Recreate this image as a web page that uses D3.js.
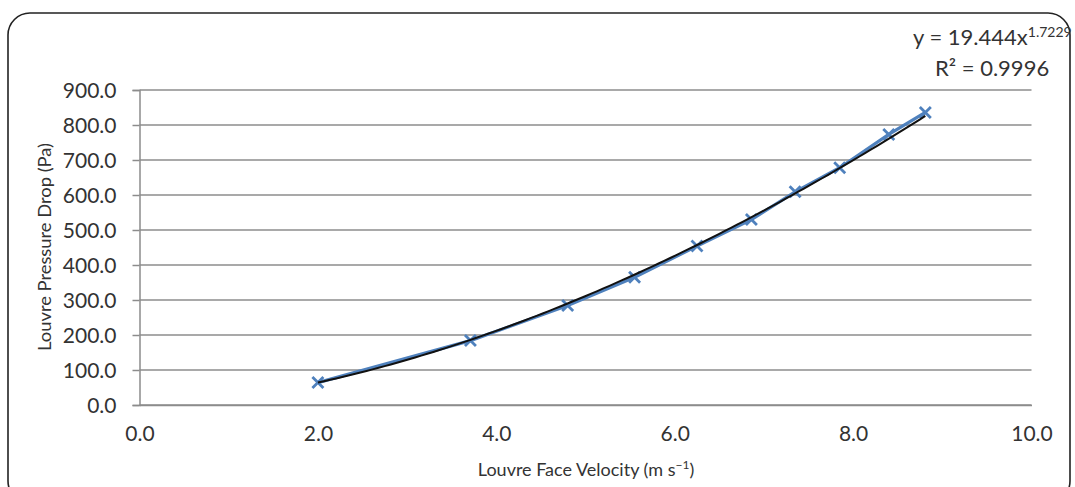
<!DOCTYPE html>
<html><head><meta charset="utf-8">
<script src="https://cdn.jsdelivr.net/npm/d3@7"></script>
<style>body{margin:0;background:#fff;} svg{display:block;}</style>
</head><body>
<svg id="c" width="1075" height="487"></svg>
<script>
const velocity = [2.0, 3.71, 4.8, 5.55, 6.25, 6.86, 7.35, 7.85, 8.40, 8.81];
const pressure = [64, 184, 284, 365, 454, 530, 609, 678, 773, 836];
const xTicks = [0, 2, 4, 6, 8, 10];
const yTicks = [0, 100, 200, 300, 400, 500, 600, 700, 800, 900];
const fitA = 19.444, fitB = 1.7229;
const eqText = "y = 19.444x", eqSup = "1.7229", r2Text = "R² = 0.9996";

const svg = d3.select("#c");
const font = "Lato, 'Open Sans', sans-serif";
const x = d3.scaleLinear().domain([0, 10]).range([139.5, 1031.5]);
const y = d3.scaleLinear().domain([0, 900]).range([405, 90]);

// chart border
svg.append("rect").attr("x", 8).attr("y", 13).attr("width", 1062).attr("height", 490)
  .attr("rx", 22).attr("fill", "none").attr("stroke", "#222").attr("stroke-width", 1.6);

// gridlines
svg.append("g").selectAll("line").data(yTicks).join("line")
  .attr("x1", x(0)).attr("x2", x(10)).attr("y1", d => y(d)).attr("y2", d => y(d))
  .attr("stroke", "#8c8c8c").attr("stroke-width", 1.5);

// y axis
const ya = svg.append("g").attr("transform", `translate(${x(0)},0)`)
  .call(d3.axisLeft(y).tickValues(yTicks).tickSize(7).tickPadding(16).tickFormat(d3.format(".1f")));
ya.select(".domain").attr("stroke", "#8c8c8c").attr("stroke-width", 1.5);
ya.selectAll(".tick line").attr("stroke", "#8c8c8c").attr("stroke-width", 1.5);
ya.selectAll("text").attr("font-family", font).attr("font-size", 21).attr("fill", "#333").attr("dy", "0.35em");

// x axis
const xa = svg.append("g").attr("transform", `translate(0,${y(0)})`)
  .call(d3.axisBottom(x).tickValues(xTicks).tickSize(0).tickPadding(21).tickFormat(d3.format(".1f")));
xa.select(".domain").attr("stroke", "#8c8c8c").attr("stroke-width", 1.5);
xa.selectAll("text").attr("font-family", font).attr("font-size", 21).attr("fill", "#333");

// data line
const pts = velocity.map((v, i) => [v, pressure[i]]);
svg.append("path").datum(pts)
  .attr("d", d3.line().x(d => x(d[0])).y(d => y(d[1])))
  .attr("fill", "none").attr("stroke", "#4f81bd").attr("stroke-width", 3.2);

// markers
const s = 5.5;
svg.append("g").selectAll("path").data(pts).join("path")
  .attr("d", d => `M${x(d[0])-s},${y(d[1])-s}L${x(d[0])+s},${y(d[1])+s}M${x(d[0])-s},${y(d[1])+s}L${x(d[0])+s},${y(d[1])-s}`)
  .attr("stroke", "#4f81bd").attr("stroke-width", 2.8);

// trendline
const tx = d3.range(0, 101).map(i => velocity[0] + (velocity[velocity.length-1] - velocity[0]) * i / 100);
svg.append("path").datum(tx)
  .attr("d", d3.line().x(d => x(d)).y(d => y(fitA * Math.pow(d, fitB))))
  .attr("fill", "none").attr("stroke", "#111").attr("stroke-width", 2);

// equation
const eq = svg.append("text").attr("x", 913).attr("y", 45).attr("font-family", font).attr("font-size", 22).attr("fill", "#333");
eq.append("tspan").text(eqText);
eq.append("tspan").attr("dy", -8).attr("font-size", 14).text(eqSup);
svg.append("text").attr("x", 935).attr("y", 76).attr("font-family", font).attr("font-size", 22).attr("fill", "#333").text(r2Text);

// axis titles
svg.append("text").attr("x", 586).attr("y", 476).attr("text-anchor", "middle")
  .attr("font-family", font).attr("font-size", 18).attr("fill", "#333")
  .html("Louvre Face Velocity (m s<tspan dy='-7' font-size='12'>−1</tspan><tspan dy='7'>)</tspan>");
svg.append("text").attr("transform", "translate(51,247) rotate(-90)").attr("text-anchor", "middle")
  .attr("font-family", font).attr("font-size", 18).attr("fill", "#333")
  .attr("textLength", 208).attr("lengthAdjust", "spacingAndGlyphs").text("Louvre Pressure Drop (Pa)");
</script>
</body></html>
